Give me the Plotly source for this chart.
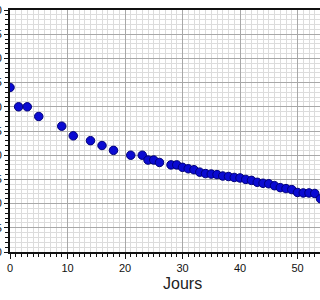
import plotly.graph_objects as go

# Data
jours = [0, 1.5, 3, 5, 9, 11, 14, 16, 18, 21, 23, 24, 25, 26,
         28, 29, 30, 31, 32, 33, 34, 35, 36, 37, 38, 39, 40, 41,
         42, 43, 44, 45, 46, 47, 48, 49, 50, 51, 52, 53, 54]
valeurs = [34, 30, 30, 28, 26, 24, 23, 22, 21, 20, 20, 19, 19, 18.5,
           18, 18, 17.5, 17.2, 17, 16.5, 16.2, 16.1, 16, 15.7, 15.6, 15.4, 15.3, 15,
           14.8, 14.4, 14.2, 14.1, 13.7, 13.3, 13.1, 12.9, 12.3, 12.2, 12.2, 12.1, 11.0]

x_ticks = [0, 10, 20, 30, 40, 50, 60]
y_ticks = [0, 5, 10, 15, 20, 25, 30, 35, 40, 45, 50]
x_title = "Jours"

fig = go.Figure()
fig.add_trace(go.Scatter(
    x=jours, y=valeurs, mode="markers",
    marker=dict(size=8.5, color="#0a0ad2", line=dict(width=1, color="#00007a")),
    showlegend=False,
))

fig.update_layout(
    width=320, height=300,
    margin=dict(l=10, r=0, t=10, b=48),
    paper_bgcolor="white", plot_bgcolor="white",
    font=dict(family="Liberation Sans, Arial, sans-serif", size=11, color="#111"),
    annotations=[dict(text=x_title, xref="paper", yref="paper",
                      x=(182 - 10) / 310, y=-0.13, xanchor="center", yanchor="middle",
                      showarrow=False, font=dict(size=16, color="#222"))],
)

fig.update_xaxes(
    range=[0, 310 / 5.75], tickvals=x_ticks, ticks="outside", ticklen=5, tickwidth=1,
    tickcolor="#111", showline=True, linecolor="#111", linewidth=2, mirror=True,
    showgrid=True, gridcolor="#a8a8a8", gridwidth=1, zeroline=False, automargin=False,
    minor=dict(dtick=1, ticks="outside", ticklen=3, tickcolor="#111",
               showgrid=True, gridcolor="#dcdcdc", gridwidth=1),
)
fig.update_yaxes(
    range=[0, 50], tickvals=y_ticks, ticks="outside", ticklen=4, tickwidth=1,
    tickcolor="#111", showline=True, linecolor="#111", linewidth=2, mirror=False,
    showgrid=True, gridcolor="#a8a8a8", gridwidth=1, zeroline=False, automargin=False,
    minor=dict(dtick=1, ticks="outside", ticklen=3, tickcolor="#111",
               showgrid=True, gridcolor="#dcdcdc", gridwidth=1),
)

fig.write_html("out.html")
